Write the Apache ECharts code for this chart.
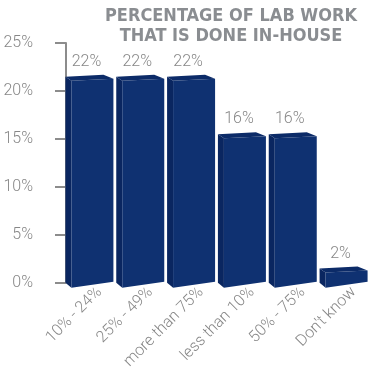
<!DOCTYPE html>
<html><head><meta charset="utf-8">
<script src="https://cdn.jsdelivr.net/npm/echarts@6/dist/echarts.min.js"></script>
<style>html,body{margin:0;padding:0;background:#fff}#c{width:379px;height:372px}</style>
</head><body><div id="c"></div>
<script>
const categories = ['10% - 24%', '25% - 49%', 'more than 75%', 'less than 10%', '50% - 75%', "Don't know"];
const values = [22, 22, 22, 16, 16, 2];
const yTicks = [0, 5, 10, 15, 20, 25];
const titleLines = ['PERCENTAGE OF LAB WORK', 'THAT IS DONE IN-HOUSE'];

const GRAY = '#878787';
const FRONT = '#0f3171', SIDE = '#0a2660', TOP = '#0c2b68';

function renderItem(params, api) {
  const i = api.value(0), v = api.value(1);
  const t = api.coord([i, v]);
  const b = api.coord([i, 0]);
  const cx = t[0] - 10, yb = t[1] + 3, y0 = b[1];
  const L = cx - 24, F = cx - 18, R = cx + 24, B = cx + 14;
  return {
    type: 'group',
    children: [
      { type: 'polygon', shape: { points: [[L, yb + 2], [F, yb + 6], [F, y0 + 5], [L, y0]] }, style: { fill: SIDE } },
      { type: 'polygon', shape: { points: [[F, yb + 6], [R, yb + 4], [R, y0 - 1], [F, y0 + 5]] }, style: { fill: FRONT } },
      { type: 'polygon', shape: { points: [[L, yb + 2], [B, yb], [R, yb + 4], [F, yb + 6]] }, style: { fill: TOP } },
      { type: 'text', x: cx - 3, y: yb - 13, style: { text: v + '%', align: 'center', verticalAlign: 'middle', fill: GRAY, fontSize: 16, fontFamily: 'Roboto', fontWeight: 300 } }
    ]
  };
}

const chart = echarts.init(document.getElementById('c'));
chart.setOption({
  animation: false,
  title: {
    text: titleLines.join('\n'), left: 226, top: 1, textAlign: 'center',
    textStyle: { color: '#8a8d91', fontSize: 18, fontWeight: 'bold', fontFamily: '"Liberation Sans Narrow", "DejaVu Sans Condensed", sans-serif', lineHeight: 20 }
  },
  grid: { left: 74, top: 43, width: 315, height: 240 },
  xAxis: {
    type: 'category', data: categories,
    axisLine: { show: false }, axisTick: { show: false },
    axisLabel: { rotate: 45, margin: 7, interval: 0, color: GRAY, fontFamily: 'Roboto', fontWeight: 300, fontSize: 16 }
  },
  yAxis: {
    type: 'value', min: yTicks[0], max: yTicks[yTicks.length - 1], interval: yTicks[1] - yTicks[0], offset: 8,
    axisLine: { show: true, onZero: false, lineStyle: { color: '#8c8c8c', width: 2 } },
    axisTick: { show: true, length: 11, lineStyle: { color: '#8c8c8c', width: 2 } },
    splitLine: { show: false },
    axisLabel: { formatter: '{value}%', margin: 33, color: GRAY, fontFamily: 'Roboto', fontWeight: 300, fontSize: 16 }
  },
  series: [{ type: 'custom', data: values.map((v, i) => [i, v]), renderItem: renderItem, clip: false }]
});
</script>
</body></html>
